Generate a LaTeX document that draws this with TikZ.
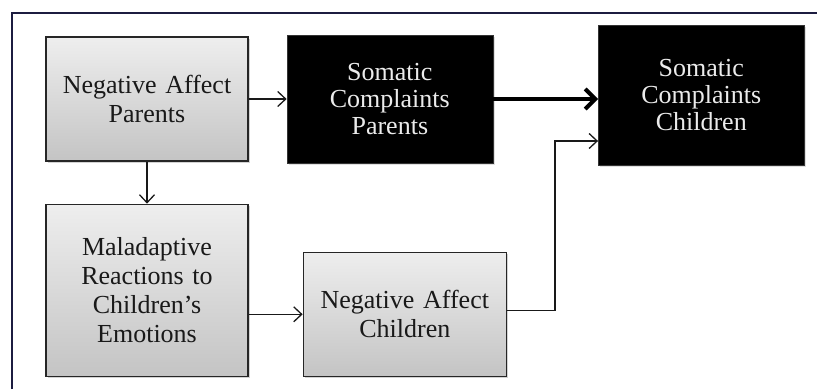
\documentclass[tikz,border=0pt]{standalone}
\usepackage{fontspec}
\setmainfont{Liberation Serif}
\usepackage{tikz}
\usetikzlibrary{arrows.meta,positioning,shadows}

\definecolor{framenavy}{RGB}{28,28,64}
\definecolor{boxtop}{RGB}{238,238,238}
\definecolor{boxbottom}{RGB}{196,196,196}

\begin{document}
\begin{tikzpicture}[x=1pt,y=-1pt,
        >={Straight Barb[length=8pt,width=15pt]},
        node distance=40pt,
        lightbox/.style={draw=black!85, line width=1.3pt, top color=boxtop, bottom color=boxbottom,
            text=black!90, align=center, text width=190pt, minimum width=202pt,
            font=\fontsize{26}{29}\selectfont,
            drop shadow={shadow xshift=2pt, shadow yshift=-2pt, opacity=.35}},
        darkbox/.style={draw=black!80, fill=black, text=black!8, align=center, text width=190pt,
            minimum width=206pt, font=\fontsize{26}{27}\selectfont,
            drop shadow={shadow xshift=2pt, shadow yshift=-2pt, opacity=.25}},
        thin arrow/.style={->, line width=1.3pt, black!90},
        thick arrow/.style={-{Straight Barb[length=10pt,width=20pt]}, line width=4pt}]
        \useasboundingbox (0,0) rectangle (817,389);
        \draw[framenavy, line width=1.8pt] (12,389) -- (12,13) -- (817,13);

        \node[lightbox, minimum height=124pt] (nap) at (147,99) {Negative Affect\\Parents};
        \node[darkbox, minimum height=128pt, right=38pt of nap] (scp) {Somatic\\Complaints\\Parents};
        \node[darkbox, minimum height=140pt, right=105pt of scp, yshift=4pt] (scc) {Somatic\\Complaints\\Children};

        \node[lightbox, minimum height=172pt, below=42pt of nap] (mal) {Maladaptive\\Reactions to\\Children’s\\Emotions};
        \node[lightbox, minimum width=203pt, minimum height=124pt, right=54pt of mal, yshift=-24pt] (nac) {Negative Affect\\Children};

        \draw[thin arrow] (nap.east) -- (nap.east -| scp.west);
        \draw[thick arrow] (scp.east) -- (scp.east -| scc.west);
        \draw[thin arrow] (nap) -- (mal);
        \draw[thin arrow] (nac.west -| mal.east) -- (nac.west);
        \draw[thin arrow] ([yshift=4pt]nac.east) -- ++(48,0) |- ([yshift=-46pt]scc.west);
\end{tikzpicture}
\end{document}
